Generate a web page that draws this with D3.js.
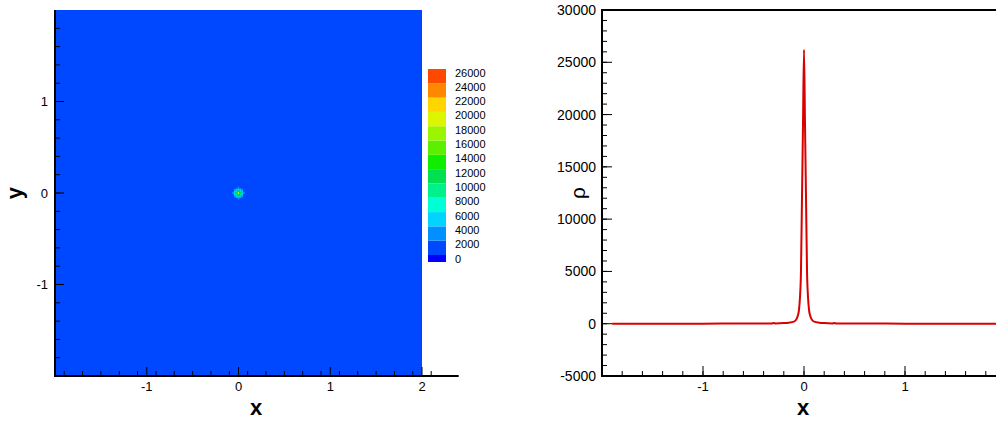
<!DOCTYPE html>
<html>
<head>
<meta charset="utf-8">
<script src="https://cdn.jsdelivr.net/npm/d3@7"></script>
<style>
  body { margin: 0; background: #fff; }
  text { font-family: "Liberation Sans", Arial, Helvetica, sans-serif; fill: #000; }
</style>
</head>
<body>
<script>
// contour legend levels and band colours (band for label L holds values just below L)
var legendLevels = [0, 2000, 4000, 6000, 8000, 10000, 12000, 14000, 16000, 18000, 20000, 22000, 24000, 26000];
var levelColors = ["#0000ff", "#0048ff", "#0090ff", "#00d4ff", "#00ffd4", "#00f08c", "#00e050",
                   "#10ee00", "#5cf000", "#9cf500", "#ddf500", "#ffd500", "#ff8800", "#ff4800"];

// tick labels
var contourXTicks = [-1, 0, 1, 2];
var contourYTicks = [-1, 0, 1];
var lineXTicks = [-1, 0, 1];
var lineYTicks = [-5000, 0, 5000, 10000, 15000, 20000, 25000, 30000];

// small blob of density around the origin (cell centres, 0.02 apart)
var spotCoords = [-0.06, -0.04, -0.02, 0, 0.02, 0.04, 0.06];
var spotRho = [
  [ 300, 1000, 1800, 2300, 1800, 1000,  300],
  [1000, 2600, 4600, 5600, 4600, 2600, 1000],
  [1800, 4600, 8500, 11500, 8500, 4600, 1800],
  [2300, 5600, 11500, 19000, 11500, 5600, 2300],
  [1800, 4600, 8500, 11500, 8500, 4600, 1800],
  [1000, 2600, 4600, 5600, 4600, 2600, 1000],
  [ 300, 1000, 1800, 2300, 1800, 1000,  300]
];

// density along y = 0
var profileX = [-1.9, -1.5, -1.0, -0.6, -0.4, -0.32, -0.3, -0.28, -0.2, -0.15, -0.1, -0.08, -0.06, -0.05, -0.04, -0.03, -0.02, -0.01, 0,
                0.01, 0.02, 0.03, 0.04, 0.05, 0.06, 0.08, 0.1, 0.15, 0.2, 0.28, 0.3, 0.32, 0.4, 0.6, 1.0, 1.5, 2.0];
var profileRho = [0, 0, 5, 15, 25, 30, 70, 30, 60, 100, 200, 350, 800, 1300, 2500, 5000, 12000, 19000, 26200,
                  19000, 12000, 5000, 2500, 1300, 800, 350, 200, 100, 60, 30, 70, 30, 25, 15, 5, 0, 0];

var svg = d3.select("body")
  .append("svg")
  .attr("width", 996)
  .attr("height", 423);

var colorScale = d3.scaleThreshold()
  .domain(legendLevels)
  .range(levelColors.concat(["#ff4800"]));

// ---------- left: contour plot ----------
var cx = d3.scaleLinear().domain([-2, 2]).range([55, 422]);
var cy = d3.scaleLinear().domain([-2, 2]).range([376, 10]);
var cxAxis = d3.scaleLinear().domain([-2, 2.4]).range([55, cx(2.4)]);

svg.append("rect")
  .attr("x", cx(-2))
  .attr("y", cy(2))
  .attr("width", cx(2) - cx(-2))
  .attr("height", cy(-2) - cy(2))
  .style("fill", colorScale(1000));

var cell = 0.02;
spotRho.forEach(function(row, i){
  row.forEach(function(v, j){
    svg.append("rect")
      .attr("x", cx(spotCoords[j] - cell / 2))
      .attr("y", cy(spotCoords[i] + cell / 2))
      .attr("width", cx(cell) - cx(0))
      .attr("height", cx(cell) - cx(0))
      .style("fill", colorScale(v));
  });
});

function inwardTicks(g, scale, values, len, horizontal, base){
  values.forEach(function(v){
    var p = scale(v);
    if (horizontal) {
      g.append("line").attr("x1", p).attr("x2", p).attr("y1", base).attr("y2", base - len);
    } else {
      g.append("line").attr("x1", base).attr("x2", base + len).attr("y1", p).attr("y2", p);
    }
  });
}

var axes = svg.append("g").style("stroke", "#000");

// contour x axis
axes.append("line").attr("x1", 54).attr("x2", cxAxis(2.4)).attr("y1", 376).attr("y2", 376).style("stroke-width", 2);
inwardTicks(axes, cx, d3.range(-19, 23, 2).map(function(d){ return d / 10; }), 5, true, 376);
inwardTicks(axes, cx, contourXTicks, 9, true, 376);
// contour y axis
axes.append("line").attr("x1", 55).attr("x2", 55).attr("y1", 10).attr("y2", 377).style("stroke-width", 2);
inwardTicks(axes, cy, d3.range(-18, 20, 2).map(function(d){ return d / 10; }), 5, false, 55);
inwardTicks(axes, cy, contourYTicks, 9, false, 55);

contourXTicks.forEach(function(t){
  svg.append("text").attr("x", cx(t)).attr("y", 391)
    .attr("text-anchor", "middle").style("font-size", "13px").text(t);
});
contourYTicks.forEach(function(t){
  svg.append("text").attr("x", 48).attr("y", cy(t) + 4.5)
    .attr("text-anchor", "end").style("font-size", "13px").text(t);
});
svg.append("text").attr("x", 256).attr("y", 415)
  .attr("text-anchor", "middle").style("font-size", "22px").style("font-weight", "bold").text("x");
svg.append("text").attr("transform", "translate(22,193) rotate(-90)")
  .attr("text-anchor", "middle").style("font-size", "22px").style("font-weight", "bold").text("y");

// legend
var legY = d3.scaleLinear().domain([26000, 0]).range([69, 255]);
legendLevels.forEach(function(lv, i){
  var top = legY(lv);
  var h = lv === 0 ? 7 : legY(lv - 2000) - top;
  svg.append("rect")
    .attr("x", 428).attr("y", top)
    .attr("width", 18).attr("height", h)
    .style("fill", levelColors[i]);
  svg.append("text")
    .attr("x", 455).attr("y", top + 7.5)
    .style("font-size", "11px")
    .text(lv);
});

// ---------- right: line plot ----------
var lx = d3.scaleLinear().domain([-2, 2]).range([602, 1006]);
var ly = d3.scaleLinear().domain([-5000, 30000]).range([376, 10]);

var lineAxes = svg.append("g").style("stroke", "#000");
lineAxes.append("line").attr("x1", 601).attr("x2", 996).attr("y1", 376).attr("y2", 376).style("stroke-width", 2);
lineAxes.append("line").attr("x1", 601).attr("x2", 996).attr("y1", 10).attr("y2", 10).style("stroke-width", 2);
lineAxes.append("line").attr("x1", 602).attr("x2", 602).attr("y1", 9).attr("y2", 377).style("stroke-width", 2);
inwardTicks(lineAxes, lx, d3.range(-18, 20, 2).map(function(d){ return d / 10; }), 5, true, 376);
inwardTicks(lineAxes, lx, lineXTicks, 10, true, 376);
inwardTicks(lineAxes, ly, d3.range(-4000, 30000, 1000), 5, false, 602);
inwardTicks(lineAxes, ly, lineYTicks, 10, false, 602);

lineXTicks.forEach(function(t){
  svg.append("text").attr("x", lx(t)).attr("y", 391)
    .attr("text-anchor", "middle").style("font-size", "13px").text(t);
});
lineYTicks.forEach(function(t){
  svg.append("text").attr("x", 596).attr("y", ly(t) + 5)
    .attr("text-anchor", "end").style("font-size", "14px").text(t);
});
svg.append("text").attr("x", 803).attr("y", 415)
  .attr("text-anchor", "middle").style("font-size", "22px").style("font-weight", "bold").text("x");
svg.append("text").attr("transform", "translate(585,193) rotate(-90)")
  .attr("text-anchor", "middle").style("font-size", "21px").text("ρ");

var line = d3.line()
  .x(function(d, i){ return lx(profileX[i]); })
  .y(function(d){ return ly(d); })
  .curve(d3.curveMonotoneX);

svg.append("path")
  .attr("d", line(profileRho))
  .style("fill", "none")
  .style("stroke", "#d90000")
  .style("stroke-width", 2);
</script>
</body>
</html>
